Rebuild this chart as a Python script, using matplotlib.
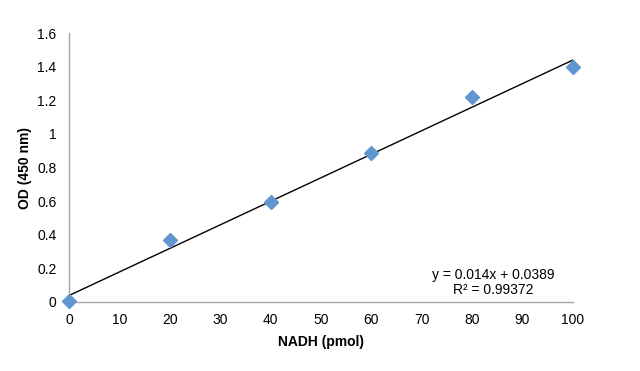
import matplotlib
matplotlib.use('Agg')
import matplotlib.pyplot as plt
import numpy as np

plt.rcParams['font.family'] = ['Liberation Sans', 'DejaVu Sans']

# 数据
nadh = [0, 20, 40, 60, 80, 100]
od = [0.004, 0.370, 0.596, 0.886, 1.220, 1.399]
slope = 0.014
intercept = 0.0389
r2 = 0.99372
x_ticks = np.arange(0, 101, 10)
y_ticks = [0, 0.2, 0.4, 0.6, 0.8, 1, 1.2, 1.4, 1.6]
y_ticklabels = ['0', '0.2', '0.4', '0.6', '0.8', '1', '1.2', '1.4', '1.6']

fig = plt.figure(figsize=(6.4, 3.71), dpi=100)
ax = fig.add_axes([0.108, 0.186, 0.787, 0.725])

# 坐标轴
for s in ['top', 'right']:
    ax.spines[s].set_visible(False)
for s in ['left', 'bottom']:
    ax.spines[s].set_color('#A6A6A6')
    ax.spines[s].set_linewidth(1.0)

# 趋势线
xl = np.array([0, 100])
ax.plot(xl, slope * xl + intercept, color='black', linewidth=1.0, zorder=2)

# 散点
ax.plot(nadh, od, linestyle='none', marker='D', markersize=7.5,
        color='#6196D0', markeredgecolor='#6196D0', zorder=3, clip_on=False)

ax.set_xlim(0, 100)
ax.set_ylim(0, 1.6)
ax.set_xticks(x_ticks)
ax.set_yticks(y_ticks)
ax.set_yticklabels(y_ticklabels)
ax.tick_params(axis='both', length=0, labelsize=10, colors='black')
ax.tick_params(axis='x', pad=8)
ax.tick_params(axis='y', pad=9)

ax.set_xlabel('NADH (pmol)', fontsize=10, fontweight='bold', labelpad=6)
ax.set_ylabel('OD (450 nm)', fontsize=10, fontweight='bold', labelpad=4)

ax.text(84.3, 0.118, 'y = %gx + %g\nR² = %g' % (slope, intercept, r2),
        ha='center', va='center', fontsize=10, linespacing=1.1)

plt.savefig('out.png', dpi=100)
